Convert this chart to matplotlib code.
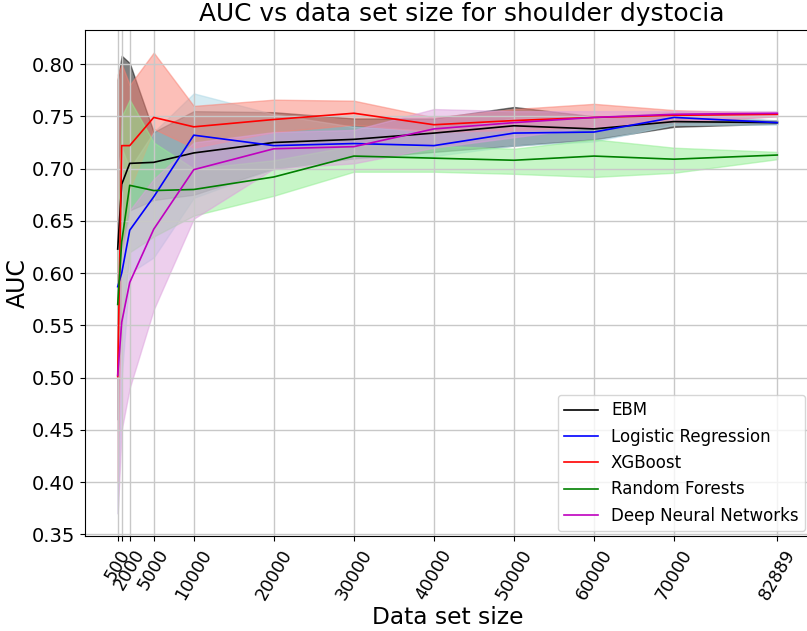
import matplotlib
matplotlib.use("Agg")
import matplotlib.pyplot as plt
import numpy as np

# data set sizes used for training
sizes = [500, 1000, 2000, 5000, 10000, 20000, 30000, 40000, 50000, 60000, 70000, 82889]
tick_labels = ['500', '', '2000', '5000', '10000', '20000', '30000', '40000',
               '50000', '60000', '70000', '82889']

# mean AUC + band (lower / upper) for each model
ebm = [0.623, 0.685, 0.705, 0.706, 0.715, 0.725, 0.728, 0.734, 0.741, 0.738, 0.745, 0.744]
ebm_lo = [0.46, 0.62, 0.66, 0.67, 0.675, 0.700, 0.710, 0.716, 0.722, 0.728, 0.740, 0.743]
ebm_hi = [0.785, 0.808, 0.801, 0.735, 0.755, 0.754, 0.748, 0.748, 0.759, 0.750, 0.749, 0.746]

lr = [0.587, 0.600, 0.641, 0.673, 0.732, 0.722, 0.724, 0.722, 0.734, 0.735, 0.749, 0.744]
lr_lo = [0.37, 0.50, 0.600, 0.615, 0.672, 0.700, 0.710, 0.712, 0.722, 0.726, 0.742, 0.742]
lr_hi = [0.70, 0.72, 0.700, 0.735, 0.772, 0.752, 0.740, 0.736, 0.748, 0.748, 0.755, 0.746]

xgb = [0.501, 0.722, 0.722, 0.749, 0.740, 0.747, 0.753, 0.742, 0.746, 0.749, 0.751, 0.752]
xgb_lo = [0.40, 0.62, 0.68, 0.738, 0.720, 0.735, 0.742, 0.735, 0.737, 0.740, 0.745, 0.750]
xgb_hi = [0.79, 0.80, 0.78, 0.811, 0.760, 0.766, 0.765, 0.749, 0.757, 0.762, 0.756, 0.753]

rf = [0.570, 0.630, 0.684, 0.679, 0.680, 0.692, 0.712, 0.710, 0.708, 0.712, 0.709, 0.713]
rf_lo = [0.50, 0.55, 0.620, 0.635, 0.655, 0.674, 0.697, 0.697, 0.695, 0.692, 0.696, 0.709]
rf_hi = [0.62, 0.75, 0.766, 0.725, 0.700, 0.708, 0.722, 0.722, 0.719, 0.728, 0.720, 0.716]

dnn = [0.502, 0.553, 0.591, 0.642, 0.699, 0.719, 0.721, 0.738, 0.744, 0.749, 0.752, 0.753]
dnn_lo = [0.37, 0.45, 0.490, 0.565, 0.652, 0.700, 0.705, 0.720, 0.730, 0.740, 0.745, 0.750]
dnn_hi = [0.55, 0.62, 0.660, 0.690, 0.725, 0.735, 0.737, 0.757, 0.755, 0.755, 0.755, 0.755]

models = [
    ('EBM', ebm, ebm_lo, ebm_hi, 'k', 'black'),
    ('Logistic Regression', lr, lr_lo, lr_hi, 'b', 'lightblue'),
    ('XGBoost', xgb, xgb_lo, xgb_hi, 'r', 'salmon'),
    ('Random Forests', rf, rf_lo, rf_hi, 'g', 'lightgreen'),
    ('Deep Neural Networks', dnn, dnn_lo, dnn_hi, 'm', 'plum'),
]

fig = plt.figure(figsize=(8.07, 6.31), dpi=100)
ax = fig.add_axes([0.105, 0.150, 0.899, 0.803])

for name, mean, lo, hi, c, fc in models:
    ax.plot(sizes, mean, color=c, lw=1.2, label=name)
    ax.fill_between(sizes, lo, hi, color=fc, alpha=0.5)

ax.set_xticks(sizes)
ax.set_xticklabels(tick_labels, rotation=60, fontsize=12.5)
ax.set_yticks(np.arange(0.35, 0.801, 0.05))
ax.set_yticklabels(['%.2f' % v for v in np.arange(0.35, 0.801, 0.05)], fontsize=14)
ax.set_ylim(0.348, 0.833)
ax.set_xlim(-3619, 87008)
ax.grid(True, color='#c8c8c8', lw=1)

ax.set_xlabel('Data set size', fontsize=16.8, labelpad=2)
ax.set_ylabel('AUC', fontsize=17, labelpad=1)
ax.set_title('AUC vs data set size for shoulder dystocia', fontsize=17.9, x=0.519)
ax.legend(loc='lower right', fontsize=12, borderaxespad=0.3)

plt.savefig('out.png')
plt.close()
